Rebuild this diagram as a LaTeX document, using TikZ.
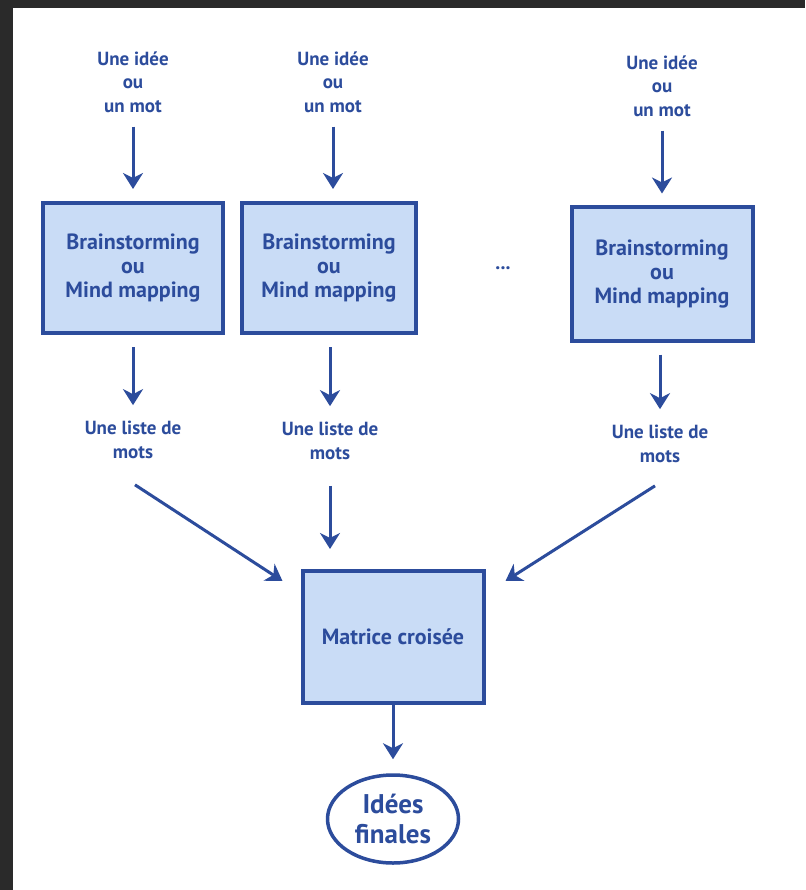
\documentclass[tikz,border=0pt]{standalone}
\usepackage{fontspec}
\setmainfont{PT Sans}
\usetikzlibrary{arrows.meta,shapes.geometric}
\definecolor{ink}{HTML}{2C4C9C}
\definecolor{boxfill}{HTML}{C9DCF6}
\definecolor{frame}{HTML}{2A2A2A}
\tikzset{
  lbl/.style={text=ink,font=\bfseries\fontsize{19}{23.5}\selectfont,align=center,inner sep=0pt},
  bigbox/.style={draw=ink,fill=boxfill,line width=4pt,text=ink,align=center,
    font=\bfseries\fontsize{22}{24}\selectfont,inner sep=0pt},
  arr/.style={draw=ink,line width=3pt,-{Stealth[length=16pt,width=20pt,inset=5pt]}},
  oval/.style={ellipse,draw=ink,line width=3.5pt,text=ink,align=center,
    font=\bfseries\fontsize{27}{30}\selectfont,inner sep=0pt,minimum width=131pt,minimum height=88pt}
}
\begin{document}
\begin{tikzpicture}[x=1pt,y=-1pt]
\fill[frame] (0,0) rectangle (805,890);
\fill[white] (13,8) rectangle (805,890);
\useasboundingbox (0,0) rectangle (805,890);

% top labels
\node[lbl] (t1) at (133,82) {Une idée\\ou\\un mot};
\node[lbl] (t2) at (333,82) {Une idée\\ou\\un mot};
\node[lbl] (t3) at (662,86) {Une idée\\ou\\un mot};

% boxes
\node[bigbox,minimum width=180pt,minimum height=130pt] (b1) at (133,268) {Brainstorming\\ou\\Mind mapping};
\node[bigbox,minimum width=174pt,minimum height=130pt] (b2) at (329,268) {Brainstorming\\ou\\Mind mapping};
\node[bigbox,minimum width=181pt,minimum height=133pt] (b3) at (662,274) {Brainstorming\\ou\\Mind mapping};
\node[text=ink,font=\bfseries\fontsize{20}{20}\selectfont,inner sep=0pt] (dots) at (503,268) {...};

% lists
\node[lbl] (l1) at (133,440) {Une liste de\\mots};
\node[lbl] (l2) at (330,441) {Une liste de\\mots};
\node[lbl] (l3) at (660,444) {Une liste de\\mots};

% matrix
\node[bigbox,minimum width=181pt,minimum height=132pt] (m) at (393,637) {Matrice croisée};

% final
\node[oval] (f) at (393,819) {Idées\\finales};

% arrows
\draw[arr,shorten <=14pt,shorten >=12pt] (t1.south) -- (t1.south |- b1.north);
\draw[arr,shorten <=14pt,shorten >=12pt] (t2.south) -- (t2.south |- b2.north);
\draw[arr,shorten <=14pt,shorten >=12pt] (t3.south) -- (t3.south |- b3.north);

\draw[arr,shorten <=12pt,shorten >=16pt] (b1.south) -- (b1.south |- l1.north);
\draw[arr,shorten <=12pt,shorten >=16pt] (l2.north |- b2.south) -- (l2.north);
\draw[arr,shorten <=12pt,shorten >=16pt] (l3.north |- b3.south) -- (l3.north);

\draw[arr] ([xshift=2pt,yshift=-26pt]l1.south) -- ([xshift=-18pt,yshift=-12pt]m.north west);
\draw[arr,shorten <=26pt,shorten >=20pt] (l2.south) -- (l2.south |- m.north);
\draw[arr] ([xshift=-5pt,yshift=-23pt]l3.south) -- ([xshift=20pt,yshift=-12pt]m.north east);

\draw[arr,shorten >=14pt] (m.south -| f.north) -- (f.north);
\end{tikzpicture}
\end{document}
